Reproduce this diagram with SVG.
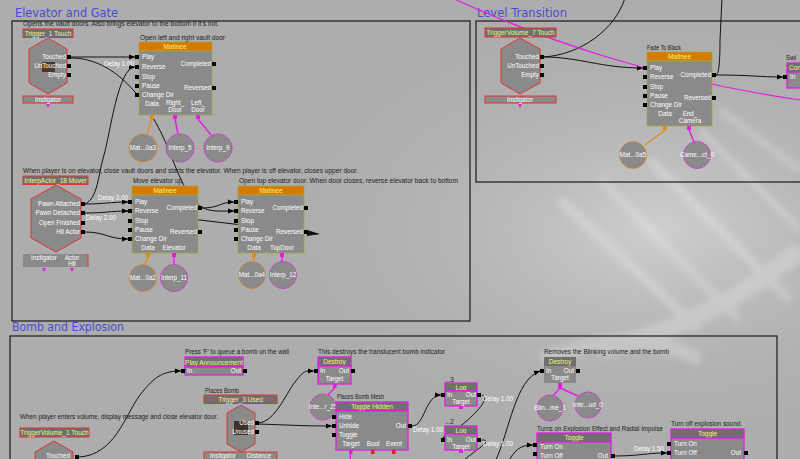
<svg xmlns="http://www.w3.org/2000/svg" width="800" height="459" viewBox="0 0 800 459">
<defs>
<marker id="ar" markerUnits="userSpaceOnUse" markerWidth="6" markerHeight="6" refX="6" refY="3" orient="auto"><path d="M0,0.5 L6,3 L0,5.5 z" fill="#000"/></marker>
<radialGradient id="glow" cx="0.82" cy="0.5" r="0.5"><stop offset="0" stop-color="#cfcfcf"/><stop offset="1" stop-color="#adadad" stop-opacity="0"/></radialGradient>
<filter id="soft" x="-20%" y="-20%" width="140%" height="140%"><feGaussianBlur stdDeviation="3"/></filter>
</defs>
<style>
text{font-family:"Liberation Sans",Arial,sans-serif}
.ttl{font-family:"DejaVu Sans",Verdana,sans-serif;font-size:12.5px;fill:#4a4ad6}
.frame{fill:none;stroke:#1a1a1a;stroke-width:1.2}
.cm{font-size:6.3px;fill:#1c1c1c}
.wt{font-size:6.3px;fill:#fff}
.yt{font-size:6.5px;fill:#f4f480}
.body{fill:#8a8a8a}
.hdr{fill:#6f6f6f}
.mhdr{fill:#d67a00;stroke:#a6a63e;stroke-width:0.8}
.mbody{fill:#8a8a8a;stroke:#a6a63e;stroke-width:0.8}
.red{stroke:#e03434;stroke-width:1}
.pk{stroke:#e21ee2;stroke-width:1.3}
.hex{fill:#8a8a8a;stroke:#e03434;stroke-width:1}
.pin{fill:#000}
.w{fill:none;stroke:#111;stroke-width:1}
.wa{fill:none;stroke:#111;stroke-width:1;marker-end:url(#ar)}
.vo{fill:#8a8a8a;stroke:#e58a1a;stroke-width:1;stroke-dasharray:2 1}
.vp{fill:#8a8a8a;stroke:#e21ee2;stroke-width:1;stroke-dasharray:2 1}
.lo{stroke:#e58a1a;stroke-width:1.4;fill:none}
.lp{stroke:#e21ee2;stroke-width:1.4;fill:none}
.mid{text-anchor:middle}
.end{text-anchor:end}
</style>
<rect width="800" height="459" fill="#adadad"/>
<rect width="800" height="459" fill="url(#glow)"/>
<g opacity="0.22" stroke="#ffffff" fill="none" filter="url(#soft)">
<path d="M560,200 L700,330" stroke-width="10"/>
<path d="M600,180 L740,320" stroke-width="8"/>
<path d="M650,160 L790,300" stroke-width="10"/>
<path d="M700,130 L800,230" stroke-width="7"/>
<path d="M600,350 C680,330 740,300 800,250" stroke-width="18"/>
<path d="M720,110 L800,170" stroke-width="7"/>
<path d="M540,360 C600,340 640,330 700,360" stroke-width="14"/>
</g>

<!-- frames and titles -->
<g id="frames">
<rect class="frame" x="12" y="21" width="458" height="300"/>
<rect class="frame" x="476" y="21" width="330" height="161"/>
<rect class="frame" x="10" y="336" width="767" height="130"/>
<text class="ttl" x="15" y="17" textLength="103" lengthAdjust="spacingAndGlyphs">Elevator and Gate</text>
<text class="ttl" x="477" y="17" textLength="90" lengthAdjust="spacingAndGlyphs">Level Transition</text>
<text class="ttl" x="12" y="331" textLength="112" lengthAdjust="spacingAndGlyphs">Bomb and Explosion</text>
</g>

<!-- comments -->
<g id="comments">
<text class="cm" x="23" y="26" textLength="196" lengthAdjust="spacingAndGlyphs">Opens the vault doors.  Also brings elevator to the bottom if it's not.</text>
<text class="cm" x="140" y="40" textLength="85" lengthAdjust="spacingAndGlyphs">Open left and right vault door</text>
<text class="cm" x="23" y="173" textLength="335" lengthAdjust="spacingAndGlyphs">When player is on elevator, close vault doors and starts the elevator.  When player is off elevator, closes upper door.</text>
<text class="cm" x="133" y="183" textLength="49" lengthAdjust="spacingAndGlyphs">Move elevator up</text>
<text class="cm" x="239" y="183" textLength="219" lengthAdjust="spacingAndGlyphs">Open top elevator door.  When door closes, reverse elevator back to bottom</text>
<text class="cm" x="647" y="50" textLength="34" lengthAdjust="spacingAndGlyphs">Fade To Black</text>
<text class="cm" x="786" y="60">Swi</text>
<text class="cm" x="185" y="354" textLength="104" lengthAdjust="spacingAndGlyphs">Press 'F' to queue a bomb on the wall</text>
<text class="cm" x="318" y="354" textLength="127" lengthAdjust="spacingAndGlyphs">This destroys the translucent bomb indicator</text>
<text class="cm" x="205" y="393" textLength="34" lengthAdjust="spacingAndGlyphs">Places Bomb</text>
<text class="cm" x="20" y="419" textLength="198" lengthAdjust="spacingAndGlyphs">When player enters volume, display message and close elevator door.</text>
<text class="cm" x="337" y="399" textLength="47" lengthAdjust="spacingAndGlyphs">Places Bomb Mesh</text>
<text class="cm" x="445" y="382">...3</text>
<text class="cm" x="445" y="424">...2</text>
<text class="cm" x="544" y="354" textLength="125" lengthAdjust="spacingAndGlyphs">Removes the Blinking volume and the bomb</text>
<text class="cm" x="537" y="431" textLength="126" lengthAdjust="spacingAndGlyphs">Turns on Explosion Effect and Radial Impulse</text>
<text class="cm" x="671" y="426" textLength="71" lengthAdjust="spacingAndGlyphs">Turn off explosion sound.</text>
</g>

<!-- connectors -->
<g id="connectors">
<path class="wa" d="M71,57 C100,57 110,57 135,57"/>
<path class="wa" d="M71,58 C115,58 150,100 172,158 S205,211 234,211"/>
<path class="wa" d="M85,204 C98,198 98,175 104,155 S118,67 135,67"/>
<path class="wa" d="M85,204 C105,204 110,202 128,202"/>
<path class="wa" d="M85,213 C105,213 110,211 128,211"/>
<path class="wa" d="M85,232 C105,232 108,239 128,239"/>
<path class="wa" d="M202,208 C220,208 220,202 234,202"/>
<path class="w" d="M124,211 L318,234"/>
<path d="M307,230 L320,234 L307,236 z" fill="#111"/>
<path class="wa" d="M543,57 C580,57 600,68 643,68"/>
<path class="w" d="M543,57 C580,55 615,30 625,-2"/>
<path class="w" d="M716,75 C719,75 720,60 720,40 L722,-2"/>
<path class="wa" d="M716,75 C750,75 760,77 783,77"/>
<path fill="none" stroke="#e21ee2" stroke-width="1.2" d="M452,-2 C540,38 650,78 800,100"/>
<path class="wa" d="M79,457 C115,455 125,415 140,395 C155,375 165,371 181,371"/>
<path class="wa" d="M258,423 C275,422 285,395 295,382 S306,371 314,371"/>
<path class="wa" d="M258,424 C290,425 300,426 332,426"/>
<path class="wa" d="M412,426 C425,426 425,395 441,395"/>
<path class="wa" d="M482,395 C495,400 455,432 441,440"/>
<path class="w" d="M482,440 C495,440 472,452 462,462"/>
<path class="wa" d="M495,462 C510,430 515,380 540,371"/>
<path class="wa" d="M508,462 C515,450 520,445 533,445"/>
<path class="wa" d="M613,456 C640,456 645,453 667,453"/>
<text class="wt" x="104" y="66">Delay 1.00</text>
<text class="wt" x="98" y="200">Delay 3.00</text>
<text class="wt" x="86" y="220">Delay 2.00</text>
<text class="wt" x="413" y="432">Delay 1.00</text>
<text class="wt" x="483" y="401">Delay 1.00</text>
<text class="wt" x="483" y="446">Delay 1.00</text>
<text class="wt" x="634" y="451">Delay 1.50</text>
</g>

<!-- Elevator and Gate -->
<g id="trigger1">
<rect class="hdr red" x="23" y="29" width="50" height="8.5"/>
<text class="yt mid" x="48" y="35.5">Trigger_1 Touch</text>
<polygon class="hex" points="48,38 67,49 67,83 48,94 29,83 29,49"/>
<rect x="42" y="62" width="13" height="10" fill="#4a3a2c"/>
<text class="wt end" x="66" y="59">Touched</text>
<text class="wt end" x="66" y="68">UnTouched</text>
<text class="wt end" x="66" y="77">Empty</text>
<rect class="pin" x="67" y="55" width="4" height="4"/>
<rect class="pin" x="67" y="64" width="4" height="4"/>
<rect class="pin" x="67" y="73" width="4" height="4"/>
<rect class="body red" x="23" y="96" width="50" height="7"/>
<text class="wt mid" x="48" y="101.5">Instigator</text>
<path d="M46,104 L50,104 L48,108 z" fill="#e21ee2"/>
</g>

<g id="matinee1">
<rect class="mhdr" x="139" y="42" width="73" height="9"/>
<text class="yt mid" x="175" y="49">Matinee</text>
<rect class="mbody" x="139" y="51" width="73" height="64"/>
<rect class="pin" x="135" y="55" width="4" height="4"/>
<rect class="pin" x="135" y="65" width="4" height="4"/>
<rect class="pin" x="135" y="75" width="4" height="4"/>
<rect class="pin" x="135" y="84" width="4" height="4"/>
<rect class="pin" x="135" y="93" width="4" height="4"/>
<text class="wt" x="142" y="59">Play</text>
<text class="wt" x="142" y="69">Reverse</text>
<text class="wt" x="142" y="79">Stop</text>
<text class="wt" x="142" y="88">Pause</text>
<text class="wt" x="142" y="97">Change Dir</text>
<rect class="pin" x="212" y="62" width="4" height="4"/>
<rect class="pin" x="212" y="86" width="4" height="4"/>
<text class="wt end" x="211" y="66">Completed</text>
<text class="wt end" x="211" y="90">Reversed</text>
<text class="wt mid" x="152" y="106">Data</text>
<text class="wt mid" x="175" y="105">Right_</text>
<text class="wt mid" x="175" y="112">Door</text>
<text class="wt mid" x="198" y="105">Left_</text>
<text class="wt mid" x="198" y="112">Door</text>
<rect x="150" y="115" width="4" height="4" fill="#e58a1a"/>
<rect x="173" y="115" width="4" height="4" fill="#e21ee2"/>
<rect x="196" y="115" width="4" height="4" fill="#e21ee2"/>
<path class="lo" d="M152,119 L147,134"/>
<path class="lp" d="M175,119 L178,134"/>
<path class="lp" d="M198,119 L211,135"/>
</g>
<g id="var1"><circle class="vo" cx="143" cy="148" r="14"/><text class="wt mid" x="143" y="150">Mat...0a3</text></g>
<g id="var2"><circle class="vp" cx="180" cy="148" r="14"/><text class="wt mid" x="180" y="150">Interp_5</text></g>
<g id="var3"><circle class="vp" cx="218" cy="148" r="14"/><text class="wt mid" x="218" y="150">Interp_9</text></g>

<g id="interp18">
<rect class="hdr red" x="23" y="176" width="65" height="8.5"/>
<text class="yt mid" x="55.5" y="182.5">InterpActor_18 Mover</text>
<polygon class="hex" points="56,185 81,199 81,238 56,252 31,238 31,199"/>
<text class="wt end" x="80" y="206">Pawn Attached</text>
<text class="wt end" x="80" y="215">Pawn Detached</text>
<text class="wt end" x="80" y="225">Open Finished</text>
<text class="wt end" x="80" y="234">Hit Actor</text>
<rect class="pin" x="81" y="202" width="4" height="4"/>
<rect class="pin" x="81" y="211" width="4" height="4"/>
<rect class="pin" x="81" y="221" width="4" height="4"/>
<rect class="pin" x="81" y="230" width="4" height="4"/>
<rect class="body" x="23" y="254" width="65" height="13"/>
<line x1="88" y1="254" x2="88" y2="267" stroke="#e03434"/>
<text class="wt mid" x="44" y="260">Instigator</text>
<text class="wt mid" x="72" y="260">Actor</text>
<text class="wt mid" x="72" y="266">Hit</text>
<path d="M42,268 L46,268 L44,272 z" fill="#e21ee2"/>
<path d="M70,268 L74,268 L72,272 z" fill="#e21ee2"/>
</g>

<g id="matinee2">
<rect class="mhdr" x="132" y="186" width="66" height="9"/>
<text class="yt mid" x="165" y="193">Matinee</text>
<rect class="mbody" x="132" y="195" width="66" height="58"/>
<rect class="pin" x="128" y="200" width="4" height="4"/>
<rect class="pin" x="128" y="209" width="4" height="4"/>
<rect class="pin" x="128" y="219" width="4" height="4"/>
<rect class="pin" x="128" y="228" width="4" height="4"/>
<rect class="pin" x="128" y="237" width="4" height="4"/>
<text class="wt" x="135" y="204">Play</text>
<text class="wt" x="135" y="213">Reverse</text>
<text class="wt" x="135" y="223">Stop</text>
<text class="wt" x="135" y="232">Pause</text>
<text class="wt" x="135" y="241">Change Dir</text>
<rect class="pin" x="198" y="206" width="4" height="4"/>
<rect class="pin" x="198" y="230" width="4" height="4"/>
<text class="wt end" x="197" y="210">Completed</text>
<text class="wt end" x="197" y="234">Reversed</text>
<text class="wt mid" x="148" y="250">Data</text>
<text class="wt mid" x="174" y="250">Elevator</text>
<rect x="146" y="253" width="4" height="4" fill="#e58a1a"/>
<rect x="172" y="253" width="4" height="4" fill="#e21ee2"/>
<path class="lo" d="M148,257 L145,264"/>
<path class="lp" d="M174,257 L174,264"/>
</g>
<g id="var4"><circle class="vo" cx="143" cy="278" r="13.5"/><text class="wt mid" x="143" y="280">Mat...0a2</text></g>
<g id="var5"><circle class="vp" cx="174" cy="278" r="13.5"/><text class="wt mid" x="174" y="280">Interp_11</text></g>

<g id="matinee3">
<rect class="mhdr" x="238" y="186" width="66" height="9"/>
<text class="yt mid" x="271" y="193">Matinee</text>
<rect class="mbody" x="238" y="195" width="66" height="58"/>
<rect class="pin" x="234" y="200" width="4" height="4"/>
<rect class="pin" x="234" y="209" width="4" height="4"/>
<rect class="pin" x="234" y="219" width="4" height="4"/>
<rect class="pin" x="234" y="228" width="4" height="4"/>
<rect class="pin" x="234" y="237" width="4" height="4"/>
<text class="wt" x="241" y="204">Play</text>
<text class="wt" x="241" y="213">Reverse</text>
<text class="wt" x="241" y="223">Stop</text>
<text class="wt" x="241" y="232">Pause</text>
<text class="wt" x="241" y="241">Change Dir</text>
<rect class="pin" x="304" y="206" width="4" height="4"/>
<rect class="pin" x="304" y="230" width="4" height="4"/>
<text class="wt end" x="303" y="210">Completed</text>
<text class="wt end" x="303" y="234">Reversed</text>
<text class="wt mid" x="254" y="250">Data</text>
<text class="wt mid" x="282" y="250">TopDoor</text>
<rect x="252" y="253" width="4" height="4" fill="#e58a1a"/>
<rect x="280" y="253" width="4" height="4" fill="#e21ee2"/>
<path class="lo" d="M254,257 L253,262"/>
<path class="lp" d="M282,257 L282,262"/>
</g>
<g id="var6"><circle class="vo" cx="252" cy="275" r="13.5"/><text class="wt mid" x="252" y="277">Mat...0a4</text></g>
<g id="var7"><circle class="vp" cx="283" cy="275" r="13.5"/><text class="wt mid" x="283" y="277">Interp_12</text></g>

<!-- Level Transition -->
<g id="trigger7">
<rect class="hdr red" x="485" y="28" width="71" height="9"/>
<text class="yt mid" x="520.5" y="35">TriggerVolume_7 Touch</text>
<polygon class="hex" points="520,38 540,49 540,83 520,94 501,83 501,49"/>
<text class="wt end" x="539" y="59">Touched</text>
<text class="wt end" x="539" y="68">UnTouched</text>
<text class="wt end" x="539" y="77">Empty</text>
<rect class="pin" x="540" y="55" width="4" height="4"/>
<rect class="pin" x="540" y="64" width="4" height="4"/>
<rect class="pin" x="540" y="73" width="4" height="4"/>
<rect class="body red" x="485" y="96" width="71" height="7"/>
<text class="wt mid" x="520" y="101.5">Instigator</text>
<path d="M518,104 L522,104 L520,108 z" fill="#e21ee2"/>
</g>

<g id="fade">
<rect class="mhdr" x="647" y="52" width="65" height="9"/>
<text class="yt mid" x="679.5" y="59">Matinee</text>
<rect class="mbody" x="647" y="61" width="65" height="65"/>
<rect class="pin" x="643" y="66" width="4" height="4"/>
<rect class="pin" x="643" y="75" width="4" height="4"/>
<rect class="pin" x="643" y="85" width="4" height="4"/>
<rect class="pin" x="643" y="94" width="4" height="4"/>
<rect class="pin" x="643" y="103" width="4" height="4"/>
<text class="wt" x="650" y="70">Play</text>
<text class="wt" x="650" y="79">Reverse</text>
<text class="wt" x="650" y="89">Stop</text>
<text class="wt" x="650" y="98">Pause</text>
<text class="wt" x="650" y="107">Change Dir</text>
<rect class="pin" x="712" y="73" width="4" height="4"/>
<rect class="pin" x="712" y="96" width="4" height="4"/>
<text class="wt end" x="711" y="77">Completed</text>
<text class="wt end" x="711" y="100">Reversed</text>
<text class="wt mid" x="665" y="116">Data</text>
<text class="wt mid" x="690" y="116">End_</text>
<text class="wt mid" x="690" y="123">Camera</text>
<rect x="663" y="126" width="4" height="4" fill="#e58a1a"/>
<rect x="687" y="126" width="4" height="4" fill="#e21ee2"/>
<path class="lo" d="M665,130 L645,145"/>
<path class="lp" d="M689,130 L694,142"/>
</g>
<g id="var8"><circle class="vo" cx="633" cy="155" r="13.5"/><text class="wt mid" x="633" y="157">Mat...0a5</text></g>
<g id="var9"><circle class="vp" cx="697" cy="155" r="13.5"/><text class="wt mid" x="697" y="157">Came...ct_0</text></g>

<g id="console">
<rect class="hdr pk" x="787" y="63" width="20" height="9"/>
<text class="yt" x="789" y="70">Con</text>
<rect class="body pk" x="787" y="72" width="20" height="16"/>
<rect class="pin" x="783" y="75" width="4" height="4"/>
<text class="wt" x="790" y="79">In</text>
</g>

<!-- Bomb and Explosion -->
<g id="announce">
<rect class="hdr pk" x="185" y="357" width="58" height="10"/>
<text class="yt mid" x="214" y="364.5">Play Announcement</text>
<rect class="body pk" x="185" y="367" width="58" height="8"/>
<text class="wt" x="187" y="373">In</text>
<text class="wt end" x="241" y="373">Out</text>
<rect class="pin" x="181" y="369" width="4" height="4"/>
<rect class="pin" x="243" y="369" width="4" height="4"/>
</g>

<g id="trigger3">
<rect class="hdr red" x="204" y="395" width="73" height="8.5"/>
<text class="yt mid" x="240.5" y="401.5">Trigger_3 Used</text>
<polygon class="hex" points="241,405 255,413 255,444 241,452 227,444 227,413"/>
<rect x="234" y="421" width="14" height="14" fill="#3c3228"/>
<text class="wt end" x="254" y="425">Used</text>
<text class="wt end" x="254" y="434">Unused</text>
<rect class="pin" x="255" y="421" width="4" height="4"/>
<rect class="pin" x="255" y="430" width="4" height="4"/>
<rect class="body red" x="204" y="452" width="73" height="9"/>
<text class="wt mid" x="223" y="458">Instigator</text>
<text class="wt mid" x="259" y="458">Distance</text>
</g>

<g id="trigger_v1">
<rect class="hdr red" x="20" y="428" width="69" height="9"/>
<text class="yt mid" x="54.5" y="435">TriggerVolume_1 Touch</text>
<polygon class="hex" points="54,441 73,452 73,480 54,491 35,480 35,452"/>
<text class="wt mid" x="58" y="457.5">Touched</text>
<rect class="pin" x="75" y="455" width="4" height="4"/>
</g>

<g id="destroy1">
<rect class="hdr pk" x="318" y="357" width="33" height="9"/>
<text class="yt mid" x="334.5" y="364">Destroy</text>
<rect class="body pk" x="318" y="366" width="33" height="18"/>
<text class="wt" x="320" y="373">In</text>
<text class="wt end" x="349" y="373">Out</text>
<text class="wt mid" x="334.5" y="381">Target</text>
<rect class="pin" x="314" y="369" width="4" height="4"/>
<rect class="pin" x="351" y="369" width="4" height="4"/>
<rect x="333" y="384" width="3.5" height="4" fill="#e21ee2"/>
<path class="lp" d="M334.5,388 L328,395"/>
</g>
<g id="var10"><circle class="vp" cx="323" cy="407" r="13"/><text class="wt mid" x="323" y="409">Inte...r_25</text></g>

<g id="togglehidden">
<rect class="hdr pk" x="336" y="402" width="72" height="9"/>
<text class="yt mid" x="372" y="409">Toggle Hidden</text>
<rect class="body pk" x="336" y="411" width="72" height="39"/>
<rect class="pin" x="332" y="415" width="4" height="4"/>
<rect class="pin" x="332" y="424" width="4" height="4"/>
<rect class="pin" x="332" y="433" width="4" height="4"/>
<text class="wt" x="339" y="419">Hide</text>
<text class="wt" x="339" y="428">Unhide</text>
<text class="wt" x="339" y="437">Toggle</text>
<text class="wt end" x="406" y="428">Out</text>
<rect class="pin" x="408" y="424" width="4" height="4"/>
<text class="wt mid" x="351" y="446">Target</text>
<text class="wt mid" x="373" y="446">Bool</text>
<text class="wt mid" x="394" y="446">Event</text>
<rect x="349" y="450" width="3.5" height="4" fill="#e21ee2"/>
<path class="lp" d="M350.5,454 L350,462"/>
<rect x="371" y="450" width="3.5" height="4" fill="#e02020"/>
<rect x="392" y="450" width="3.5" height="4" fill="#e02020"/>
</g>

<g id="log1">
<rect class="hdr pk" x="445" y="383" width="32" height="8"/>
<text class="yt mid" x="461" y="389.5">Log</text>
<rect class="body pk" x="445" y="391" width="32" height="15"/>
<text class="wt" x="447" y="397">In</text>
<text class="wt end" x="476" y="397">Out</text>
<text class="wt mid" x="461" y="404">Target</text>
<rect class="pin" x="441" y="393" width="4" height="4"/>
<rect class="pin" x="477" y="393" width="4" height="4"/>
<rect x="459" y="406" width="4" height="3" fill="#e21ee2"/>
</g>

<g id="log2">
<rect class="hdr pk" x="445" y="426" width="32" height="8"/>
<text class="yt mid" x="461" y="432.5">Log</text>
<rect class="body pk" x="445" y="434" width="32" height="16"/>
<text class="wt" x="447" y="442">In</text>
<text class="wt end" x="476" y="442">Out</text>
<text class="wt mid" x="461" y="448.5">Target</text>
<rect class="pin" x="441" y="438" width="4" height="4"/>
<rect class="pin" x="477" y="438" width="4" height="4"/>
<rect x="459" y="450" width="4" height="3" fill="#e21ee2"/>
</g>

<g id="destroy2">
<rect class="hdr" x="544" y="357" width="32" height="9"/>
<text class="yt mid" x="560" y="364">Destroy</text>
<rect class="body" x="544" y="366" width="32" height="17"/>
<text class="wt" x="546" y="373">In</text>
<text class="wt end" x="574" y="373">Out</text>
<text class="wt mid" x="560" y="380">Target</text>
<rect class="pin" x="540" y="369" width="4" height="4"/>
<rect class="pin" x="576" y="369" width="4" height="4"/>
<rect x="558" y="383" width="4" height="5" fill="#e21ee2"/>
<path class="lp" d="M560,388 L553,396"/>
<path class="lp" d="M560,388 L578,396"/>
</g>
<g id="var11"><circle class="vp" cx="550" cy="408" r="13"/><text class="wt mid" x="550" y="410">Blin...me_1</text></g>
<g id="var12"><circle class="vp" cx="588" cy="405" r="13"/><text class="wt mid" x="588" y="407">Inte...ud_0</text></g>

<g id="toggle1">
<rect class="hdr pk" x="537" y="433" width="74" height="9"/>
<text class="yt mid" x="574" y="440">Toggle</text>
<rect class="body pk" x="537" y="442" width="74" height="28"/>
<rect class="pin" x="533" y="443" width="4" height="4"/>
<rect class="pin" x="533" y="452" width="4" height="4"/>
<text class="wt" x="540" y="449">Turn On</text>
<text class="wt" x="540" y="458">Turn Off</text>
<text class="wt end" x="608" y="458">Out</text>
<rect class="pin" x="611" y="454" width="4" height="4"/>
</g>

<g id="toggle2">
<rect class="hdr pk" x="671" y="429" width="73" height="9"/>
<text class="yt mid" x="707.5" y="436">Toggle</text>
<rect class="body pk" x="671" y="438" width="73" height="30"/>
<rect class="pin" x="667" y="442" width="4" height="4"/>
<rect class="pin" x="667" y="451" width="4" height="4"/>
<text class="wt" x="674" y="446">Turn On</text>
<text class="wt" x="674" y="455">Turn Off</text>
<text class="wt end" x="741" y="455">Out</text>
<rect class="pin" x="744" y="451" width="4" height="4"/>
</g>
</svg>
